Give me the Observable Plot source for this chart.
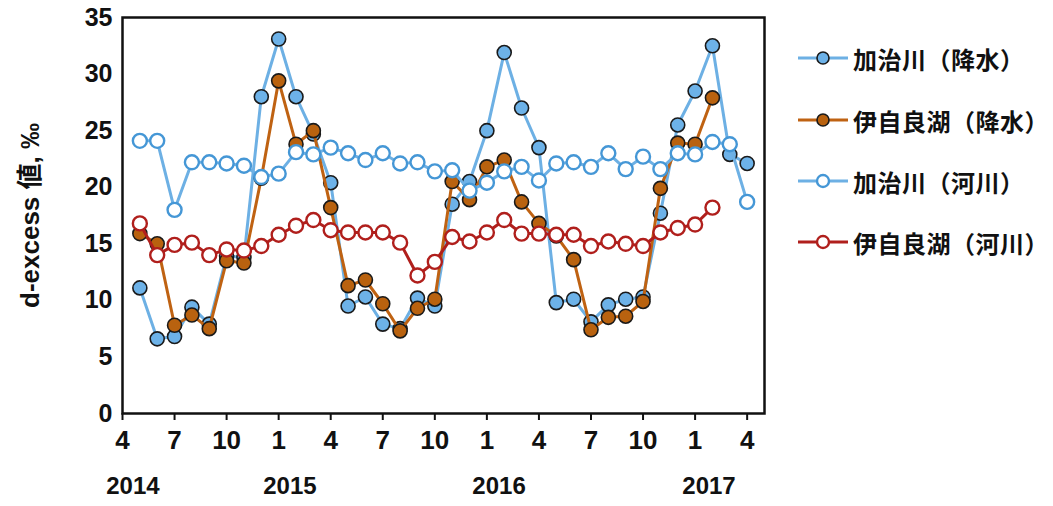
<!DOCTYPE html>
<html><head><meta charset="utf-8">
<script src="https://cdn.jsdelivr.net/npm/d3@7"></script>
<script src="https://cdn.jsdelivr.net/npm/@observablehq/plot@0.6"></script>
<style>
body{margin:0;background:#fff;}
#wrap{position:relative;width:1053px;height:506px;overflow:hidden;}
#legend{position:absolute;left:0;top:0;width:1053px;height:506px;pointer-events:none;}
.row{position:absolute;left:797px;height:30px;display:flex;align-items:center;font-family:"Noto Sans CJK JP","Noto Sans CJK SC",sans-serif;font-weight:bold;font-size:24px;color:#111;white-space:nowrap;letter-spacing:0.5px;}
.row svg{margin-right:4px;}
</style></head><body><div id="wrap"></div>
<script>
// months of samples (YYYY-MM)
const months = ["2014-05","2014-06","2014-07","2014-08","2014-09","2014-10","2014-11","2014-12",
  "2015-01","2015-02","2015-03","2015-04","2015-05","2015-06","2015-07","2015-08","2015-09","2015-10","2015-11","2015-12",
  "2016-01","2016-02","2016-03","2016-04","2016-05","2016-06","2016-07","2016-08","2016-09","2016-10","2016-11","2016-12",
  "2017-01","2017-02","2017-03","2017-04"];

// 加治川（降水）
const kajiPrecip = [11.1,6.6,6.8,9.4,7.9,13.9,13.8,28.0,33.1,28.0,24.7,20.4,9.5,10.3,7.9,7.5,10.2,9.5,18.5,20.5,25.0,31.9,27.0,23.5,9.8,10.1,8.1,9.6,10.1,10.3,17.7,25.5,28.5,32.5,22.9,22.1];
// 伊自良湖（降水）
const ijiraPrecip = [15.9,15.0,7.8,8.7,7.5,13.5,13.3,20.8,29.4,23.8,25.0,18.2,11.3,11.8,9.7,7.3,9.3,10.1,20.5,18.9,21.8,22.4,18.7,16.8,15.7,13.6,7.4,8.5,8.6,9.9,19.9,23.9,23.8,27.9];
// 加治川（河川）
const kajiRiver = [24.1,24.1,18.0,22.2,22.2,22.1,21.9,20.9,21.2,23.1,22.9,23.5,23.0,22.4,23.0,22.1,22.2,21.4,21.5,19.7,20.4,21.4,21.8,20.6,22.1,22.2,21.8,23.0,21.6,22.7,21.6,23.0,22.9,24.0,23.8,18.7];
// 伊自良湖（河川）
const ijiraRiver = [16.8,14.0,14.9,15.1,14.0,14.5,14.4,14.8,15.8,16.6,17.1,16.2,16.0,16.0,16.0,15.1,12.2,13.4,15.6,15.2,16.0,17.1,15.9,15.9,15.8,15.8,14.8,15.2,15.0,14.8,16.0,16.4,16.7,18.2];

const seriesNames = ["加治川（降水）","伊自良湖（降水）","加治川（河川）","伊自良湖（河川）"];

// axis tick labels
const xTickMonths = ["2014-04","2014-07","2014-10","2015-01","2015-04","2015-07","2015-10","2016-01","2016-04","2016-07","2016-10","2017-01","2017-04"];
const xTickLabels = ["4","7","10","1","4","7","10","1","4","7","10","1","4"];
const yearLabels = ["2014","2015","2016","2017"];
const yearLabelMonths = [0.6, 9.65, 21.7, 33.8];
const yTicks = [0,5,10,15,20,25,30,35];
const yLabel = "d-excess 値, ‰";

const monthIndex = s => { const [y, m] = s.split("-").map(Number); return (y - 2014) * 12 + (m - 4); };
const toRows = vals => vals.map((v, i) => ({m: monthIndex(months[i]), v}));
const xTickPos = xTickMonths.map(monthIndex);

const styles = [
  {line:"#6DB0E4", fill:"#6DB2E8", stroke:"#1a1a1a", sw:1.6},
  {line:"#BF6212", fill:"#B9620F", stroke:"#1a1a1a", sw:1.6},
  {line:"#6DB0E4", fill:"#ffffff", stroke:"#4597D6", sw:2.4},
  {line:"#B01F1C", fill:"#ffffff", stroke:"#B01F1C", sw:2.4}
];
const allSeries = [kajiPrecip, ijiraPrecip, kajiRiver, ijiraRiver];

const numFont = '"Liberation Sans Narrow","Arial Narrow","Liberation Sans",Arial,sans-serif';

const seriesMarks = allSeries.flatMap((vals, k) => {
  const rows = toRows(vals);
  const s = styles[k];
  return [
    Plot.line(rows, {x:"m", y:"v", stroke:s.line, strokeWidth:3}),
    Plot.dot(rows, {x:"m", y:"v", r:7, fill:s.fill, stroke:s.stroke, strokeWidth:s.sw})
  ];
});

const chart = Plot.plot({
  width: 780, height: 506,
  marginLeft: 122, marginTop: 17, marginBottom: 93, marginRight: 16,
  style: {fontFamily: numFont, fontWeight: "bold", color: "#111", background: "#fff", overflow: "visible"},
  x: {type: "linear", domain: [0, 37]},
  y: {domain: [0, 35]},
  marks: [
    Plot.axisX({ticks: xTickPos, tickFormat: d => xTickLabels[xTickPos.indexOf(d)], tickSize: 7, tickPadding: 10, strokeWidth: 2, label: null, fontSize: 26, fontWeight: "bold"}),
    Plot.axisY({ticks: yTicks, tickSize: 0, tickPadding: 10, label: null, fontSize: 25, fontWeight: "bold"}),
    Plot.text([yLabel], {frameAnchor: "left", dx: -92, rotate: -90, textAnchor: "middle", text: d => d, fontSize: 26, fontWeight: "bold", fontFamily: '"Liberation Sans","Noto Sans CJK JP",sans-serif'}),
    Plot.text(yearLabels, {x: (d, i) => yearLabelMonths[i], frameAnchor: "bottom", dy: 80, text: d => d, fontSize: 24, fontWeight: "bold"}),
    ...seriesMarks,
    Plot.frame({stroke: "#111", strokeWidth: 2.5})
  ]
});
const wrap = document.getElementById("wrap");
wrap.appendChild(chart);

// legend
const legend = document.createElement("div");
legend.id = "legend";
const rowY = [58, 120, 181, 242];
seriesNames.forEach((name, k) => {
  const s = styles[k];
  const row = document.createElement("div");
  row.className = "row";
  row.style.top = (rowY[k] - 15) + "px";
  row.innerHTML = `<svg width="52" height="20"><line x1="1" y1="10" x2="51" y2="10" stroke="${s.line}" stroke-width="3"/><circle cx="26" cy="10" r="6" fill="${s.fill}" stroke="${s.stroke}" stroke-width="${s.sw}"/></svg><span>${name}</span>`;
  legend.appendChild(row);
});
wrap.appendChild(legend);
</script>
</body></html>
